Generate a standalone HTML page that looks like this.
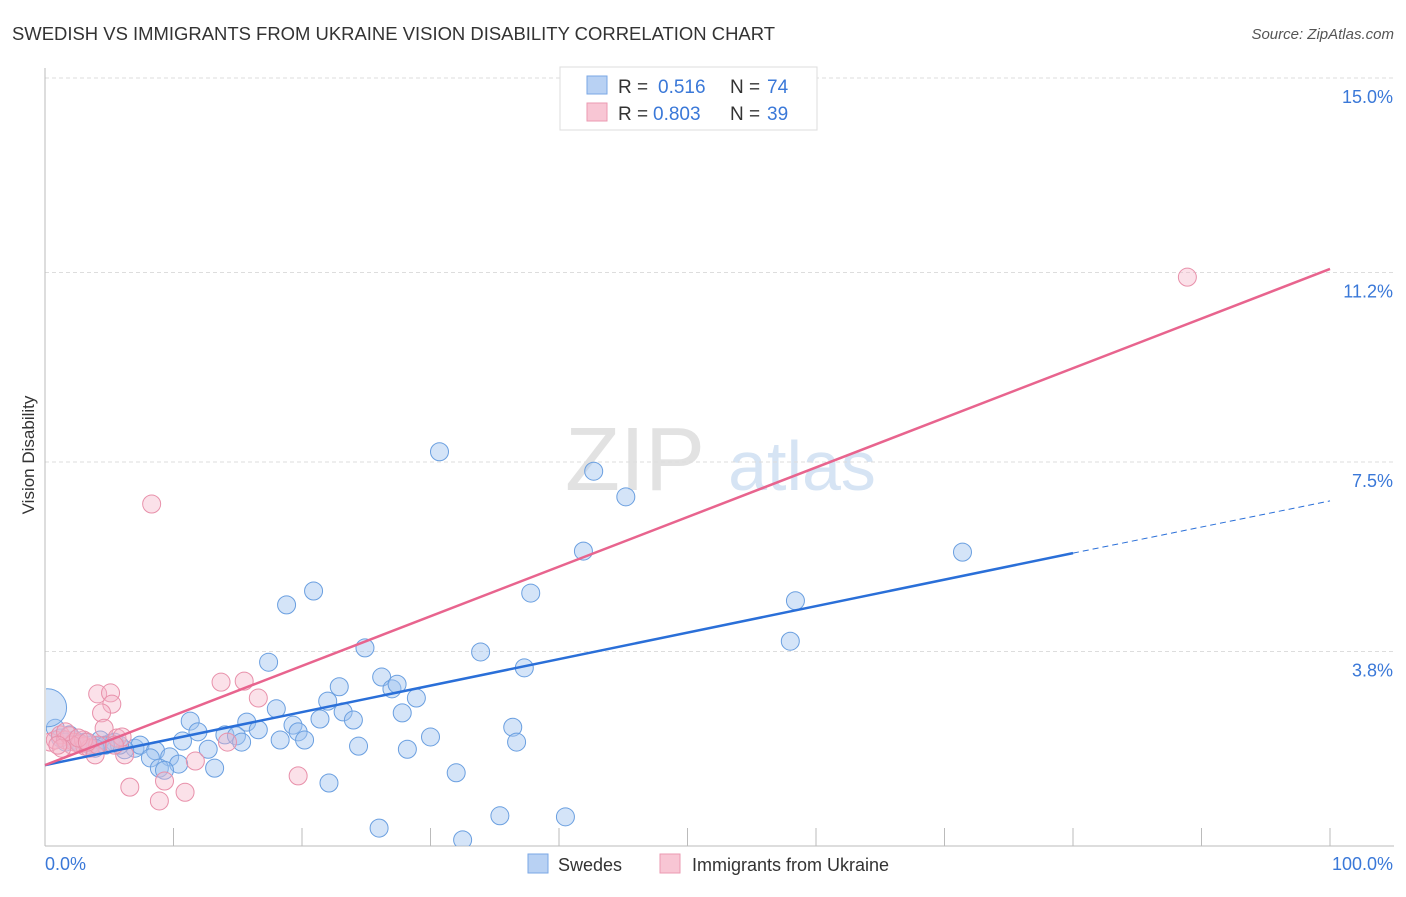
<!DOCTYPE html>
<html><head><meta charset="utf-8"><style>
body{margin:0;background:#fff;font-family:"Liberation Sans",sans-serif;}
svg text{font-family:"Liberation Sans",sans-serif;}
</style></head><body>
<svg id="chart" width="1406" height="892" viewBox="0 0 1406 892" xmlns="http://www.w3.org/2000/svg">
<defs><clipPath id="plotclip"><rect x="46" y="60" width="1360" height="786"/></clipPath></defs>
<text x="12" y="40" font-size="18.5" fill="#333" textLength="763" lengthAdjust="spacingAndGlyphs">SWEDISH VS IMMIGRANTS FROM UKRAINE VISION DISABILITY CORRELATION CHART</text>
<text x="1394" y="39" font-size="15" fill="#555" font-style="italic" text-anchor="end">Source: ZipAtlas.com</text>
<g>
<text x="635" y="490" font-size="90" fill="#e2e2e2" font-family="Liberation Serif" text-anchor="middle">ZIP</text>
<text x="802" y="490" font-size="70" fill="#d6e4f4" text-anchor="middle">atlas</text>
</g>
<g id="grid"></g>
<g id="axes"></g>
<g id="points" clip-path="url(#plotclip)"></g>
<g id="trends"></g>
<text transform="translate(34,455) rotate(-90)" font-size="17" fill="#333" text-anchor="middle">Vision Disability</text>
<g>
<rect x="560" y="67" width="257" height="63" fill="#fff" stroke="#ddd"/>
<rect x="587" y="76" width="20" height="18" fill="#b8d1f3" stroke="#7aa7e6"/>
<rect x="587" y="103" width="20" height="18" fill="#f8c6d4" stroke="#eb9ab2"/>
<text x="618" y="93" font-size="19" fill="#333">R = <tspan x="658" fill="#3a78d8">0.516</tspan></text>
<text x="730" y="93" font-size="19" fill="#333">N = <tspan x="767" fill="#3a78d8">74</tspan></text>
<text x="618" y="120" font-size="19" fill="#333">R = <tspan x="653" fill="#3a78d8">0.803</tspan></text>
<text x="730" y="120" font-size="19" fill="#333">N = <tspan x="767" fill="#3a78d8">39</tspan></text>
</g>
<g>
<rect x="528" y="854" width="20" height="19" fill="#b8d1f3" stroke="#7aa7e6"/>
<text x="558" y="871" font-size="18" fill="#333">Swedes</text>
<rect x="660" y="854" width="20" height="19" fill="#f8c6d4" stroke="#eb9ab2"/>
<text x="692" y="871" font-size="18" fill="#333">Immigrants from Ukraine</text>
</g>
</svg>
<script>
const yTicks=[3.8,7.5,11.2,15.0];
const yTickLabels=["3.8%","7.5%","11.2%","15.0%"];
const xTickValues=[0,10,20,30,40,50,60,70,80,90,100];
const swedesX=[30.7,42.7,45.2,41.9,71.4,20.9,18.8,37.8,58.4,58.0,24.9,33.9,17.4,37.3,26.2,22.9,27.0,27.4,28.9,22.0,18.0,23.2,27.8,21.4,24.0,11.3,15.7,19.3,36.4,19.7,11.9,14.0,16.6,14.9,30.0,10.7,18.3,20.2,36.7,24.4,15.3,12.7,28.2,7.0,7.4,5.1,8.6,9.7,8.2,6.2,10.4,8.9,9.3,13.2,32.0,22.1,26.0,35.4,40.5,32.5,4.0,3.5,2.3,1.2,3.1,4.3,5.4,5.8,4.7,1.9,1.6,2.7,3.9,0.8,0.2];
const swedesY=[7.70,7.32,6.82,5.76,5.74,4.98,4.71,4.94,4.79,4.00,3.87,3.79,3.59,3.48,3.30,3.11,3.07,3.16,2.89,2.83,2.68,2.62,2.60,2.48,2.46,2.44,2.42,2.36,2.32,2.23,2.23,2.17,2.27,2.15,2.13,2.05,2.07,2.07,2.03,1.95,2.03,1.89,1.89,1.91,1.97,2.01,1.86,1.74,1.72,1.88,1.60,1.52,1.48,1.52,1.43,1.23,0.35,0.59,0.57,0.12,1.95,1.97,2.07,2.11,2.03,2.07,2.03,1.97,1.97,2.17,2.03,2.01,1.91,2.30,2.70];
const ukrX=[88.9,8.3,13.7,15.5,4.1,5.1,5.2,16.6,4.4,4.6,5.6,6.0,14.2,11.7,6.2,6.6,9.3,8.9,10.9,19.7,0.4,0.8,1.2,1.6,1.9,2.3,2.7,3.1,3.5,3.9,4.1,3.0,2.1,1.6,1.3,1.0,2.6,3.3,5.4];
const ukrY=[11.11,6.68,3.20,3.22,2.97,2.99,2.77,2.89,2.60,2.30,2.11,2.13,2.03,1.66,1.78,1.15,1.27,0.88,1.05,1.37,2.03,2.07,2.17,2.07,2.15,2.03,1.99,1.95,1.91,1.78,1.97,2.07,1.97,2.23,1.91,1.97,2.11,2.03,1.97];
const swedesTrend=[1.58,5.72,6.74];
const ukrTrend=[1.58,11.27];
const NS="http://www.w3.org/2000/svg";
const X0=45,X1=1330,Y0=846,PPU=51.2;
function sx(v){return X0+(X1-X0)*v/100;}
function sy(v){return Y0-PPU*v;}
function mk(tag,attrs,parent){const e=document.createElementNS(NS,tag);for(const k in attrs)e.setAttribute(k,attrs[k]);parent.appendChild(e);return e;}
const grid=document.getElementById('grid'),axes=document.getElementById('axes'),pts=document.getElementById('points'),tr=document.getElementById('trends');
yTicks.forEach((t,i)=>{
 const l=mk('line',{x1:X0,x2:1394,y1:sy(t),y2:sy(t),stroke:'#ddd','stroke-dasharray':'4,3'},grid);
 
 
 const tx=mk('text',{x:1393,y:sy(t)+25,'font-size':18,fill:'#3a78d8','text-anchor':'end'},grid);
 tx.textContent=yTickLabels[i];
 
 
});
const ax=mk('line',{x1:X0,x2:1394,y1:Y0,y2:Y0,stroke:'#bbb'},axes);


const ay=mk('line',{x1:X0,x2:X0,y1:68,y2:Y0,stroke:'#bbb'},axes);


xTickValues.forEach(v=>{
 const t=mk('line',{x1:sx(v),x2:sx(v),y1:Y0-18,y2:Y0,stroke:'#bbb'},axes);
 
 
});
const xl0=mk('text',{x:45,y:870,'font-size':18,fill:'#3a78d8'},axes);xl0.textContent='0.0%';


const xl1=mk('text',{x:1393,y:870,'font-size':18,fill:'#3a78d8','text-anchor':'end'},axes);xl1.textContent='100.0%';


swedesX.forEach((x,i)=>{
 const big=i===swedesX.length-1;
 const c=mk('circle',{cx:sx(x),cy:sy(swedesY[i]),r:big?19:9,fill:'rgba(160,195,240,0.45)',stroke:'#6a9fe0','stroke-width':1},pts);
 
 
});
ukrX.forEach((x,i)=>{
 const c=mk('circle',{cx:sx(x),cy:sy(ukrY[i]),r:9,fill:'rgba(245,180,200,0.4)',stroke:'#e890aa','stroke-width':1},pts);
 
 
});
const b1=mk('line',{x1:sx(0),y1:sy(swedesTrend[0]),x2:sx(80),y2:sy(swedesTrend[1]),stroke:'#2a6fd8','stroke-width':2.5},tr);


const b2=mk('line',{x1:sx(80),y1:sy(swedesTrend[1]),x2:sx(100),y2:sy(swedesTrend[2]),stroke:'#2a6fd8','stroke-width':1,'stroke-dasharray':'6,4'},tr);


const p1=mk('line',{x1:sx(0),y1:sy(ukrTrend[0]),x2:sx(100),y2:sy(ukrTrend[1]),stroke:'#e8648e','stroke-width':2.5},tr);


</script>
</body></html>
